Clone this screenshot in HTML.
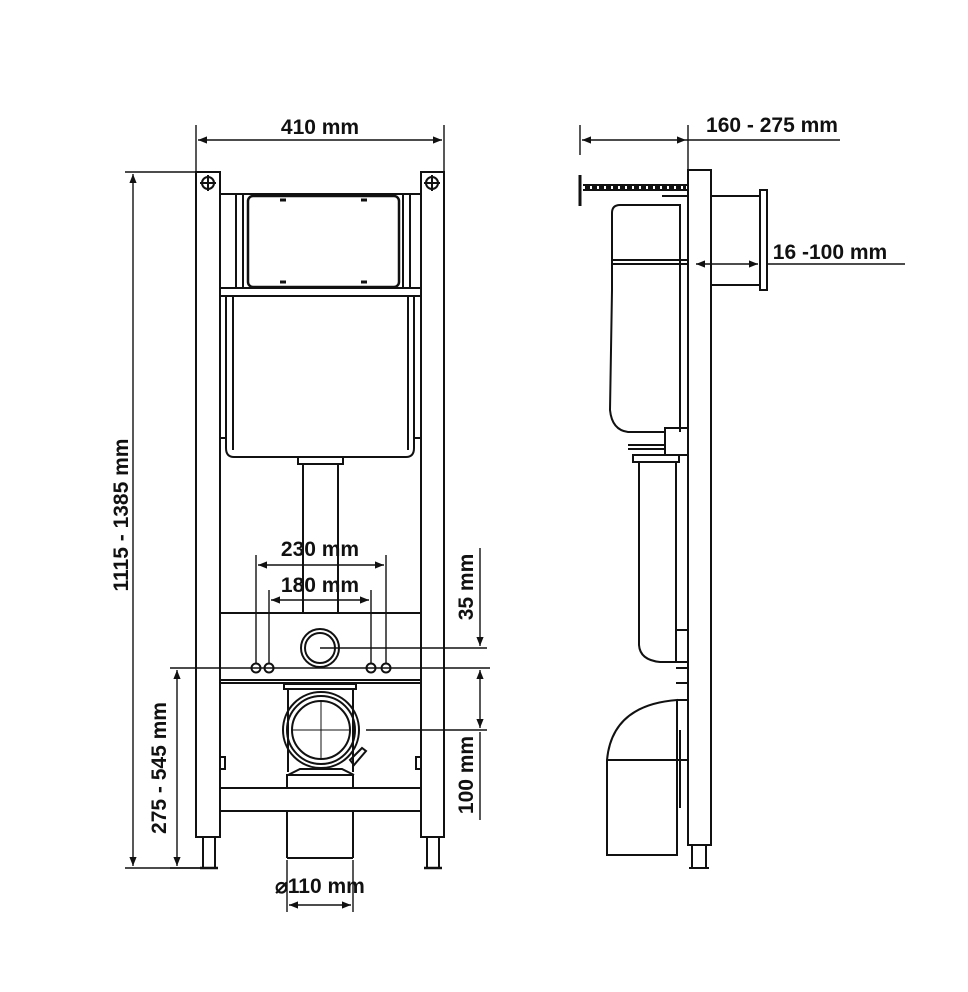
<!DOCTYPE html>
<html><head><meta charset="utf-8"><style>
html,body{margin:0;padding:0;background:#fff}
svg{display:block}
text{font-family:"Liberation Sans",sans-serif;font-weight:bold;font-size:21px;fill:#111}
</style></head><body>
<svg width="968" height="992" viewBox="0 0 968 992" xmlns="http://www.w3.org/2000/svg">
<defs>
<marker id="a" viewBox="0 0 10 10" refX="10" refY="5" markerWidth="13" markerHeight="9" orient="auto-start-reverse" markerUnits="userSpaceOnUse"><path d="M0,1 L10,5 L0,9 z" fill="#111"/></marker>
</defs>
<g fill="none" stroke="#111" stroke-width="2">
<rect x="196" y="172" width="24" height="665"/>
<rect x="421" y="172" width="23" height="665"/>
<path d="M203 837V868M215 837V868M427 837V868M439 837V868"/>
<path d="M200 868H218M424 868H442" stroke-width="2.5"/>
<circle cx="208" cy="183" r="6"/><path d="M200 183H216M208 175V191"/>
<circle cx="432" cy="183" r="6"/><path d="M424 183H440M432 175V191"/>
<path d="M220 194H421"/>
<path d="M236 194V288M243 194V288M403 194V288M410 194V288"/>
<rect x="248" y="196" width="151" height="91" rx="5" stroke-width="2.5"/>
<path d="M280 200h6M361 200h6M280 282h6M361 282h6" stroke-width="3"/>
<rect x="220" y="288" width="201" height="8"/>
<path d="M226 296V448Q226 457 234 457H406Q414 457 414 448V296"/>
<path d="M233 296V450M408 296V450M220 438h6M414 438h6"/>
<path d="M298 457v7h45v-7M303 464V612M338 464V612"/>
<path d="M220 613H421M220 680H421M220 683H421"/>
<circle cx="320" cy="648" r="19"/><circle cx="320" cy="648" r="15"/>
<circle cx="256" cy="668" r="4.5"/><circle cx="269" cy="668" r="4.5"/>
<circle cx="371" cy="668" r="4.5"/><circle cx="386" cy="668" r="4.5"/>
<path d="M284 684h72v5h-72z"/>
<path d="M288 689V772M353 689V772"/>
<circle cx="321" cy="730" r="38"/><circle cx="321" cy="730" r="34"/><circle cx="321" cy="730" r="29"/>
<path d="M321 700V760M291 730H351" stroke-width="1"/>
<path d="M350 760l12-12l4 3l-12 14z"/>
<path d="M288 775l12-6h42l12 6"/>
<rect x="287" y="775" width="66" height="13"/>
<rect x="220" y="788" width="201" height="23"/>
<path d="M287 811V858M353 811V858M287 858H353"/>
<path d="M220 757h5v12h-5M421 757h-5v12h5"/>
<rect x="688" y="170" width="23" height="675"/>
<path d="M692 845V868M706 845V868M689 868H709" />
<path d="M583 185H688M583 190H688" />
<path d="M580 175V206" stroke-width="3"/>
<path d="M585 187.5H686" stroke-width="3" stroke-dasharray="5 2"/>
<rect x="711" y="196" width="49" height="89"/>
<rect x="760" y="190" width="7" height="100"/>
<path d="M662 196H688V206"/>
<path d="M612 290V213Q612 205 620 205H680V432"/>
<path d="M612 260H688M612 264H688"/>
<path d="M612 290L610 410Q612 430 628 432H665"/>
<path d="M665 428h23v27h-23z"/>
<path d="M628 445H665M628 449H665"/>
<path d="M633 455h46v7h-46z"/>
<path d="M639 462V645Q640 660 660 662H676V462"/>
<path d="M676 630h12v32h-12M676 668h12v15h-12"/>
<path d="M607 760Q612 705 677 700V855H607Z"/>
<path d="M607 760H677M677 700H688V760H677"/>
<path d="M680 730V808"/>
<g stroke-width="1.4">
<path d="M196 125V172M444 125V172"/>
<path d="M198 140H442" marker-start="url(#a)" marker-end="url(#a)"/>
<path d="M125 172H196M125 868H200"/>
<path d="M133 174V866" marker-start="url(#a)" marker-end="url(#a)"/>
<path d="M170 668H490M170 868H200"/>
<path d="M177 670V866" marker-start="url(#a)" marker-end="url(#a)"/>
<path d="M256 555V664M386 555V664M269 590V664M371 590V664"/>
<path d="M258 565H384" marker-start="url(#a)" marker-end="url(#a)"/>
<path d="M271 600H369" marker-start="url(#a)" marker-end="url(#a)"/>
<path d="M320 648H487M366 730H487"/>
<path d="M480 548V646" marker-end="url(#a)"/>
<path d="M480 670V728" marker-start="url(#a)" marker-end="url(#a)"/>
<path d="M480 732V820"/>
<path d="M287 860V912M353 860V912"/>
<path d="M289 905H351" marker-start="url(#a)" marker-end="url(#a)"/>
<path d="M580 125V155M688 125V170"/>
<path d="M582 140H686" marker-start="url(#a)" marker-end="url(#a)"/>
<path d="M686 140H840"/>
<path d="M696 264H758" marker-start="url(#a)" marker-end="url(#a)"/>
<path d="M767 264H905"/>
</g>
</g>
<text x="320" y="134" text-anchor="middle">410 mm</text>
<text x="320" y="556" text-anchor="middle">230 mm</text>
<text x="320" y="592" text-anchor="middle">180 mm</text>
<text x="320" y="893" text-anchor="middle">⌀110 mm</text>
<text transform="translate(128,515) rotate(-90)" text-anchor="middle">1115 - 1385 mm</text>
<text transform="translate(166,768) rotate(-90)" text-anchor="middle">275 - 545 mm</text>
<text transform="translate(473,587) rotate(-90)" text-anchor="middle">35 mm</text>
<text transform="translate(473,775) rotate(-90)" text-anchor="middle">100 mm</text>
<text x="772" y="132" text-anchor="middle">160 - 275 mm</text>
<text x="830" y="259" text-anchor="middle">16 -100 mm</text>
</svg>
</body></html>
